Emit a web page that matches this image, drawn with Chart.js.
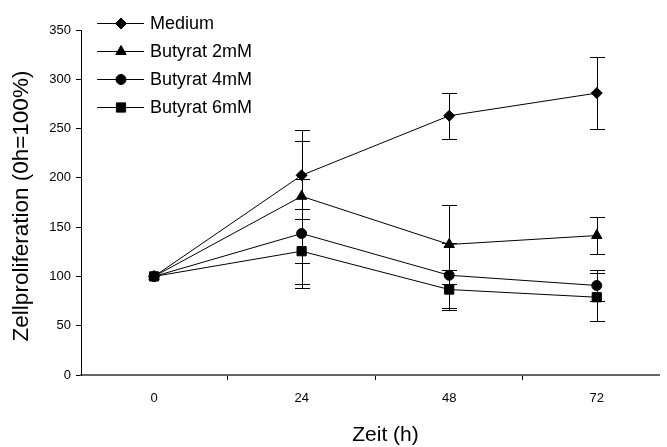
<!DOCTYPE html>
<html><head><meta charset="utf-8">
<style>html,body{margin:0;padding:0;background:#fff;overflow:hidden}canvas{display:block}</style>
<script src="https://cdn.jsdelivr.net/npm/chart.js@4.4.1/dist/chart.umd.min.js"></script>
</head><body>
<canvas id="c" width="667" height="447"></canvas>
<script>
// ---- data ----
const hours = [0, 24, 48, 72];
const xTickLabels = ['0', '24', '48', '72'];
const seriesNames = ['Medium', 'Butyrat 2mM', 'Butyrat 4mM', 'Butyrat 6mM'];
const medium = [100, 202.6, 263, 286];
const mediumErr = [0, 34.5, 23.3, 36.5];
const but2 = [100, 181.3, 132.4, 141.5];
const but2Err = [0, 67.5, 40, 18.5];
const but4 = [100, 143.5, 101.2, 90.8];
const but4Err = [0, 55, 33, 16];
const but6 = [100, 125.6, 86.7, 78.9];
const but6Err = [0, 33, 20.3, 24.3];
const yMin = 0, yMax = 350, yStep = 50;
const xTitle = 'Zeit (h)';
const yTitle = 'Zellproliferation (0h=100%)';

const FONT = '"Liberation Sans", Arial, sans-serif';
const values = [medium, but2, but4, but6];
const errors = [mediumErr, but2Err, but4Err, but6Err];
const styles = [
  {pointStyle: 'rectRot', radius: 5.5},
  {pointStyle: 'triangle', radius: 6},
  {pointStyle: 'circle', radius: 5},
  {pointStyle: 'rect', radius: 6.5}
];

const datasets = seriesNames.map((name, i) => ({
  label: name,
  data: hours.map((h, j) => ({x: h, y: values[i][j]})),
  borderColor: '#000',
  borderWidth: 1,
  backgroundColor: '#000',
  pointBackgroundColor: '#000',
  pointBorderColor: '#000',
  pointBorderWidth: 1,
  pointStyle: styles[i].pointStyle,
  pointRadius: styles[i].radius,
  tension: 0,
  errors: errors[i]
}));

const errorBars = {
  id: 'errorBars',
  beforeDatasetsDraw(chart) {
    const ctx = chart.ctx, xs = chart.scales.x, ys = chart.scales.y;
    ctx.save();
    ctx.strokeStyle = '#000';
    ctx.lineWidth = 1;
    chart.data.datasets.forEach(ds => {
      ds.data.forEach((p, j) => {
        const e = ds.errors[j];
        if (!e) return;
        const x = Math.round(xs.getPixelForValue(p.x)) + 0.5;
        const yt = Math.round(ys.getPixelForValue(p.y + e)) + 0.5;
        const yb = Math.round(ys.getPixelForValue(p.y - e)) + 0.5;
        ctx.beginPath();
        ctx.moveTo(x, yt); ctx.lineTo(x, yb);
        ctx.moveTo(x - 7.5, yt); ctx.lineTo(x + 7.5, yt);
        ctx.moveTo(x - 7.5, yb); ctx.lineTo(x + 7.5, yb);
        ctx.stroke();
      });
    });
    ctx.restore();
  }
};

const customLegend = {
  id: 'customLegend',
  afterDraw(chart) {
    const ctx = chart.ctx;
    ctx.save();
    chart.data.datasets.forEach((ds, i) => {
      const y = 23.5 + i * 28;
      ctx.strokeStyle = '#000';
      ctx.lineWidth = 1;
      ctx.beginPath();
      ctx.moveTo(97, y); ctx.lineTo(144, y);
      ctx.stroke();
      ctx.fillStyle = '#000';
      Chart.helpers.drawPoint(ctx, {pointStyle: ds.pointStyle, radius: ds.pointRadius, borderWidth: 1, rotation: 0}, 121, y);
      ctx.fillStyle = '#000';
      ctx.font = '18px ' + FONT;
      ctx.textAlign = 'left';
      ctx.textBaseline = 'middle';
      ctx.fillText(ds.label, 150, y + 1);
    });
    ctx.restore();
  }
};

const titles = {
  id: 'titles',
  afterDraw(chart) {
    const ctx = chart.ctx;
    ctx.save();
    ctx.fillStyle = '#000';
    ctx.textAlign = 'center';
    ctx.textBaseline = 'middle';
    ctx.font = '21px ' + FONT;
    ctx.fillText(xTitle, 385.5, 435);
    ctx.translate(22, 206);
    ctx.rotate(-Math.PI / 2);
    ctx.font = '22.5px ' + FONT;
    ctx.fillText(yTitle, 0, 0);
    ctx.restore();
  }
};

const midTicks = hours.slice(0, -1).map((h, i) => (h + hours[i + 1]) / 2);

new Chart(document.getElementById('c'), {
  type: 'line',
  data: {datasets},
  options: {
    responsive: false,
    devicePixelRatio: 1,
    animation: false,
    layout: {padding: {top: 30, left: 0, right: 0, bottom: 0}},
    plugins: {legend: {display: false}, tooltip: {enabled: false}},
    scales: {
      x: {
        type: 'linear',
        min: -11.88,
        max: 82.2,
        afterFit(s) { s.height = 72; },
        afterBuildTicks(s) {
          s.ticks = hours.concat(midTicks).sort((a, b) => a - b).map(v => ({value: v}));
        },
        border: {color: '#666', width: 2},
        grid: {
          drawOnChartArea: false,
          drawTicks: true,
          tickLength: 5,
          tickColor: (c) => (c.tick && hours.includes(c.tick.value)) ? 'rgba(0,0,0,0)' : '#000'
        },
        ticks: {
          autoSkip: false,
          maxRotation: 0,
          padding: 11,
          color: '#000',
          font: {family: FONT, size: 13},
          callback: (v) => { const k = hours.indexOf(v); return k >= 0 ? xTickLabels[k] : ''; }
        }
      },
      y: {
        min: yMin,
        max: yMax,
        afterFit(s) { s.width = 81; },
        border: {color: '#000', width: 1},
        grid: {drawOnChartArea: false, drawTicks: true, tickLength: 5, tickColor: '#000'},
        ticks: {stepSize: yStep, padding: 5, color: '#000', font: {family: FONT, size: 13}}
      }
    }
  },
  plugins: [errorBars, customLegend, titles]
});
</script>
</body></html>
